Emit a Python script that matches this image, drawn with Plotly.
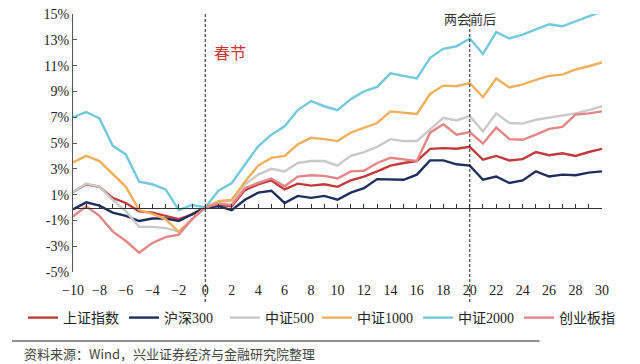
import plotly.graph_objects as go

days = list(range(-10, 31))

sz_index = [1.2, 1.8, 1.6, 0.75, 0.35, -0.3, -0.4, -0.65, -0.9, -0.55, 0,
            0.2, 0.1, 1.35, 1.8, 2.1, 1.4, 1.85, 1.7, 1.8, 1.6, 2.1, 2.4, 2.8, 3.25, 3.45, 3.6,
            4.55, 4.6, 4.55, 4.7, 3.7, 4.0, 3.65, 3.75, 4.3, 4.05, 4.2, 4.0, 4.3, 4.55]
hs300 = [-0.15, 0.4, 0.15, -0.4, -0.65, -1.05, -0.85, -0.85, -1.05, -0.55, 0,
         0.1, -0.2, 0.6, 1.15, 1.3, 0.35, 0.9, 0.75, 0.9, 0.6, 1.15, 1.5, 2.2, 2.15, 2.15, 2.55,
         3.65, 3.65, 3.35, 3.25, 2.15, 2.4, 1.9, 2.1, 2.8, 2.4, 2.55, 2.5, 2.7, 2.8]
zz500 = [1.2, 1.85, 1.6, 0.6, -0.3, -1.5, -1.5, -1.6, -1.85, -0.9, 0,
         0.45, 0.5, 1.8, 2.55, 3.0, 2.8, 3.45, 3.6, 3.6, 3.25, 4.0, 4.3, 4.7, 5.3, 5.15, 5.15,
         6.05, 6.95, 6.75, 7.1, 5.9, 7.3, 6.55, 6.5, 6.8, 6.95, 7.1, 7.3, 7.55, 7.85]
zz1000 = [3.5, 4.0, 3.6, 2.6, 1.6, -0.2, -0.5, -0.9, -1.9, -0.9, 0,
          0.5, 0.6, 2.0, 3.25, 3.85, 4.0, 4.9, 5.4, 5.3, 5.15, 5.8, 6.2, 6.55, 7.45, 7.35, 7.25,
          8.8, 9.45, 9.4, 9.65, 8.55, 10.0, 9.3, 9.55, 9.9, 10.2, 10.3, 10.7, 10.95, 11.25]
zz2000 = [7.0, 7.4, 6.9, 4.8, 4.1, 2.0, 1.8, 1.4, -0.2, 0.2, 0,
          1.3, 1.9, 3.3, 4.75, 5.65, 6.3, 7.55, 8.25, 7.85, 7.55, 8.4, 9.0, 9.35, 10.4, 10.2, 10.0,
          11.6, 12.3, 12.5, 13.1, 11.9, 13.6, 13.1, 13.4, 13.8, 14.2, 14.05, 14.45, 14.8, 15.2]
cyb = [-0.7, 0.1, -0.65, -1.85, -2.6, -3.5, -2.75, -2.3, -2.1, -0.9, 0,
       0.3, 0.2, 1.5, 1.9, 2.25, 1.65, 2.4, 2.5, 2.45, 2.25, 2.8, 2.85, 3.45, 3.85, 3.7, 3.6,
       5.8, 6.45, 5.65, 5.85, 4.95, 6.2, 5.3, 5.25, 5.65, 6.1, 6.25, 7.2, 7.3, 7.45]

series_names = ["上证指数", "沪深300", "中证500", "中证1000", "中证2000", "创业板指"]
series_values = [sz_index, hs300, zz500, zz1000, zz2000, cyb]
series_colors = ["#C23B3B", "#1D2F5E", "#C9C9C9", "#EFAF5C", "#72C9DB", "#E38686"]
series_legend = ["legend", "legend", "legend", "legend2", "legend2", "legend2"]

y_tickvals = [-5, -3, -1, 1, 3, 5, 7, 9, 11, 13, 15]
y_ticktext = ["-5%", "-3%", "-1%", "1%", "3%", "5%", "7%", "9%", "11%", "13%", "15%"]
x_tickvals = list(range(-10, 31, 2))

event_days = [0, 20]

serif = "Liberation Serif, Times New Roman, Noto Sans CJK SC, serif"

fig = go.Figure()
for name, vals, col, lg in zip(series_names, series_values, series_colors, series_legend):
    fig.add_trace(go.Scatter(x=days, y=vals, mode="lines", name=name, legend=lg,
                             line=dict(color=col, width=2.4)))

W, H = 640, 364
ml, mr, mt, mb = 73, 37.5, 14, 92
pw = W - ml - mr
ph = H - mt - mb

def px_x(x):
    return (x - ml) / pw

def px_y(y):
    return (H - mb - y) / ph

legend_common = dict(orientation="h", xref="container", yref="container",
                     y=1 - 318 / H, xanchor="left", yanchor="middle",
                     font=dict(family=serif, size=14, color="#222"),
                     entrywidth=56, entrywidthmode="pixels",
                     itemwidth=30, tracegroupgap=0, bgcolor="rgba(0,0,0,0)")

fig.update_layout(
    width=W, height=H,
    margin=dict(l=ml, r=mr, t=mt, b=mb, autoexpand=False),
    paper_bgcolor="white", plot_bgcolor="white",
    showlegend=True,
    legend=dict(x=23 / W, **legend_common),
    legend2=dict(x=317 / W, **legend_common),
    xaxis=dict(range=[-10, 30], tickvals=x_tickvals, showgrid=False, zeroline=False,
               anchor="free", position=0.25,
               showline=True, linecolor="#333", linewidth=1,
               ticks="inside", ticklen=4, tickcolor="#333",
               minor=dict(ticks="inside", ticklen=4, tickcolor="#333", dtick=1, tick0=0),
               ticklabelstandoff=70,
               tickfont=dict(family=serif, size=14, color="#222")),
    yaxis=dict(range=[-5, 15], tickvals=y_tickvals, ticktext=y_ticktext, showgrid=False,
               zeroline=False, showline=True, linecolor="#555", linewidth=1,
               ticks="inside", ticklen=4, tickcolor="#555",
               tickfont=dict(family=serif, size=14, color="#222")),
)

for d in event_days:
    fig.add_shape(type="line", xref="x", yref="paper", x0=d, x1=d, y0=px_y(302), y1=1.0,
                  line=dict(color="#222", width=1, dash="3px,2px"))

fig.add_annotation(x=0.5, y=px_y(52), xref="x", yref="paper", text="春节", showarrow=False,
                   xanchor="left", yanchor="middle",
                   font=dict(family="Noto Sans CJK SC", size=16, color="#CC3333"))
fig.add_annotation(x=20, y=px_y(18), xref="x", yref="paper", text="两会前后", showarrow=False,
                   xanchor="center", yanchor="middle",
                   font=dict(family="Noto Sans CJK SC", size=13, color="#333"))

fig.add_shape(type="line", xref="paper", yref="paper", x0=px_x(12), x1=px_x(540),
              y0=px_y(341), y1=px_y(341), line=dict(color="#222", width=1))
fig.add_annotation(x=px_x(22), y=px_y(353), xref="paper", yref="paper",
                   text="资料来源：Wind，兴业证券经济与金融研究院整理", showarrow=False,
                   xanchor="left", yanchor="middle",
                   font=dict(family="Noto Sans CJK SC", size=13, color="#444"))

fig.write_html("out.html", config={"displayModeBar": False},
               post_script="document.body.style.margin='0';")
